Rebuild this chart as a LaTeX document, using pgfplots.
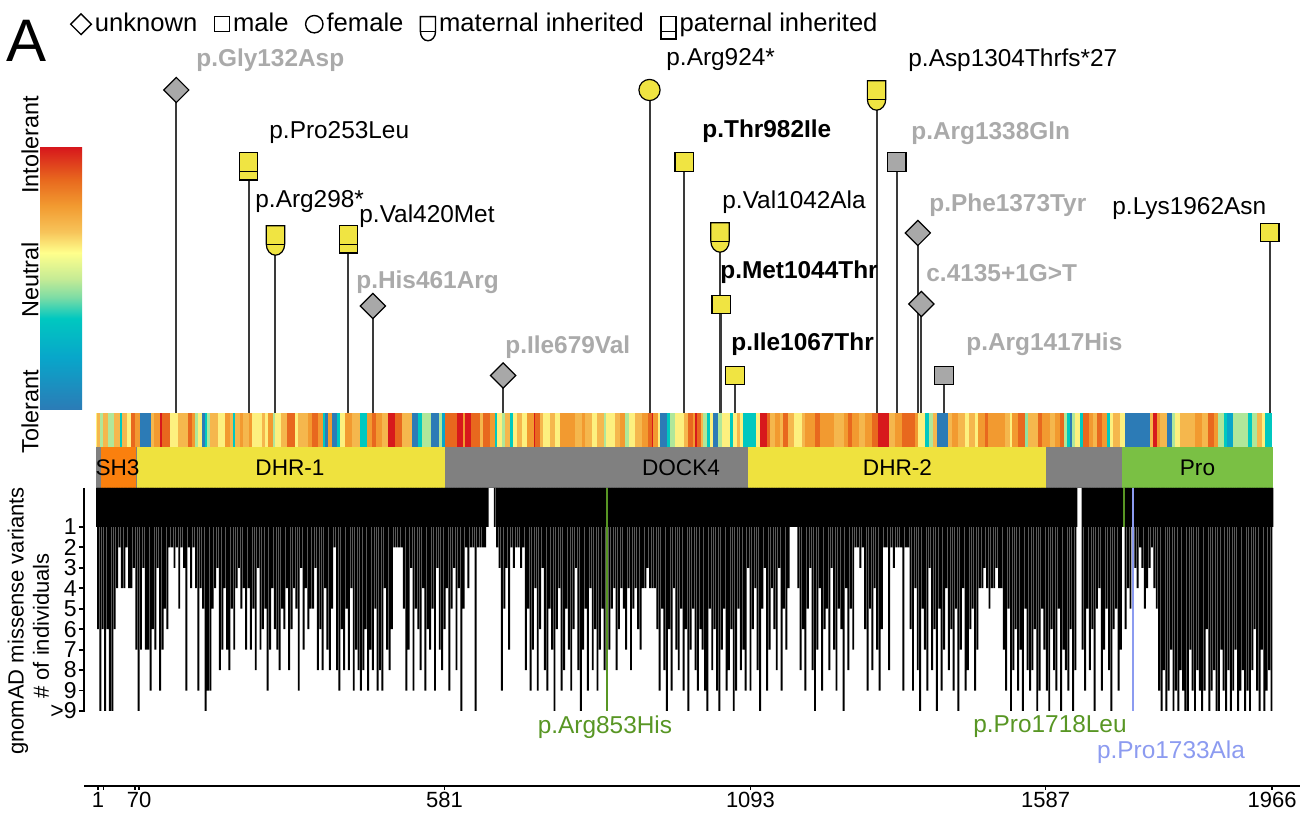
\documentclass[border=0pt]{standalone}
\usepackage{fontspec}
\setmainfont{Liberation Sans}
\usepackage{pgfplots}
\pgfplotsset{compat=1.18}
\usepackage{pgfplotstable}

\definecolor{mkyellow}{RGB}{240,228,66}
\definecolor{mkgrey}{RGB}{168,168,168}
\definecolor{txgrey}{RGB}{170,170,170}
\definecolor{stemc}{RGB}{58,58,58}
\definecolor{domgrey}{RGB}{128,128,128}
\definecolor{domorange}{RGB}{250,128,14}
\definecolor{domyellow}{RGB}{239,226,62}
\definecolor{domgreen}{RGB}{122,192,68}
\definecolor{vgreen}{RGB}{88,150,36}
\definecolor{vblue}{RGB}{140,155,240}
\definecolor{cb0}{RGB}{44,123,182}
\definecolor{cb1}{RGB}{8,166,202}
\definecolor{cb2}{RGB}{0,200,192}
\definecolor{cb3}{RGB}{125,220,165}
\definecolor{cb4}{RGB}{197,235,149}
\definecolor{cb5}{RGB}{255,255,140}
\definecolor{cb6}{RGB}{247,196,90}
\definecolor{cb7}{RGB}{242,154,48}
\definecolor{cb8}{RGB}{232,104,30}
\definecolor{cb9}{RGB}{215,25,28}
\pgfdeclareverticalshading{spec}{100bp}{color(0bp)=(cb0); color(25bp)=(cb0); color(35bp)=(cb1); color(42.5bp)=(cb2); color(46.5bp)=(cb3); color(50bp)=(cb4); color(55bp)=(cb5); color(59bp)=(cb6); color(64bp)=(cb7); color(69bp)=(cb8); color(75bp)=(cb9); color(100bp)=(cb9)}

\pgfdeclareplotmark{dmd}{%
 \pgfpathmoveto{\pgfqpoint{0pt}{6.3pt}}%
 \pgfpathlineto{\pgfqpoint{6.3pt}{0pt}}%
 \pgfpathlineto{\pgfqpoint{0pt}{-6.3pt}}%
 \pgfpathlineto{\pgfqpoint{-6.3pt}{0pt}}%
 \pgfpathclose\pgfusepathqfillstroke}
\pgfdeclareplotmark{sq}{\pgfpathrectangle{\pgfqpoint{-4.6pt}{-4.6pt}}{\pgfqpoint{9.2pt}{9.2pt}}\pgfusepathqfillstroke}
\pgfdeclareplotmark{circ}{\pgfpathcircle{\pgfqpoint{0pt}{0pt}}{5.3pt}\pgfusepathqfillstroke}
\pgfdeclareplotmark{pat}{%
 \pgfpathrectangle{\pgfqpoint{-4.6pt}{-9pt}}{\pgfqpoint{9.2pt}{13.6pt}}\pgfusepathqfillstroke
 \pgfpathmoveto{\pgfqpoint{-4.6pt}{-4.6pt}}\pgfpathlineto{\pgfqpoint{4.6pt}{-4.6pt}}\pgfusepathqstroke}
\pgfdeclareplotmark{mat}{%
 \pgfpathmoveto{\pgfqpoint{-4.6pt}{-4.6pt}}%
 \pgfpathlineto{\pgfqpoint{-4.6pt}{4.6pt}}%
 \pgfpathlineto{\pgfqpoint{4.6pt}{4.6pt}}%
 \pgfpathlineto{\pgfqpoint{4.6pt}{-4.6pt}}%
 \pgfpatharc{0}{-180}{4.6pt and 5.5pt}%
 \pgfpathclose\pgfusepathqfillstroke
 \pgfpathmoveto{\pgfqpoint{-4.6pt}{-4.6pt}}\pgfpathlineto{\pgfqpoint{4.6pt}{-4.6pt}}\pgfusepathqstroke}

% lollipop stems: residue, height above the score strip
\pgfplotstableread{
r h
132 323
253 251
298 178
420 178
461 107
679 37.5
924 323
982 251
1042 181
1044 108.5
1067 37.5
1304 323
1338 251
1373 180
1379 109
1417 37.5
1962 180.5
}\stems

% tolerance score strip: start residue, score (0 tolerant .. 1 intolerant)
\pgfplotstableread{
r c
-2 0.62
0 0.71
4 0.48
10 0.71
18 0.48
27 0.71
38 0.35
41 0.71
49 0.62
57 0.88
63 0.78
71 0
90 0.71
95 0.78
105 1
108 0.88
122 0.62
135 0.71
152 0.88
158 0.78
163 0.48
169 0.62
175 0
180 0.35
183 0.48
188 0.71
202 0.62
214 0.78
222 0.71
227 0.35
230 0.71
239 0.78
244 0.71
253 0.78
258 0.62
275 0.71
281 0.62
286 0.78
294 0.48
297 0.62
308 0.71
317 0.88
331 0.62
336 0.71
353 0.78
359 0.88
370 0.78
378 0.35
381 0
386 0.78
392 0
401 0.35
406 0.62
414 0.78
426 0.71
440 0.35
451 0.78
459 0.88
467 0.78
476 0.71
487 1
498 0.88
509 0.71
526 0
537 0.35
543 0.48
559 0
571 0.48
576 0.2
582 0.88
601 1
612 0.78
615 1
625 0.88
640 0.71
646 0.88
657 0.78
665 0.35
668 0.62
677 0.48
682 0.71
691 0.35
696 0.62
702 0.71
710 0.62
719 0.78
730 1
732 0.88
741 0.71
746 0.62
758 0.71
766 0.62
774 0.78
799 0.71
811 0.78
816 0.71
827 0.62
836 0.71
847 0.48
852 0.62
866 0.71
875 0.78
883 0.48
889 0.62
900 0.71
911 0.78
922 0.88
928 1
930 0.78
939 0.62
942 0
953 0.35
958 0.48
967 0.62
981 0.71
989 0.88
997 0.78
1000 1
1003 0.88
1011 0.71
1014 0.48
1020 0.35
1025 0.62
1031 0
1039 0.48
1045 0.62
1059 0.35
1064 0.62
1070 0.71
1076 0.62
1081 0.35
1103 0.62
1109 1
1120 0.88
1126 0.71
1134 0.78
1143 0.71
1148 0.88
1156 0.71
1165 0.62
1179 0.71
1184 0.78
1201 0.88
1209 0.78
1232 0.71
1249 0.78
1257 0.88
1263 0.78
1274 0.71
1285 0.78
1296 0.88
1307 1
1324 0.71
1335 0.78
1346 0.88
1369 0.78
1374 0.62
1385 0.35
1391 0.48
1399 0.71
1405 0
1424 0.71
1430 0.78
1441 0.71
1452 0.62
1458 0.71
1469 0.62
1474 0.78
1486 0.88
1491 0.78
1519 0.71
1528 0.62
1530 0.78
1541 0.88
1553 0.45
1558 0.71
1575 0.88
1581 0.78
1594 0.71
1603 0.78
1611 0.88
1617 0.48
1622 0.35
1628 0
1631 0.48
1636 0.62
1645 0.35
1650 0.88
1659 0.78
1667 0.71
1673 0.88
1681 0.78
1689 0.35
1695 0.62
1700 0.71
1712 0.62
1720 0
1762 0.71
1767 1
1773 0.78
1779 0.71
1790 0
1798 0.48
1804 0.62
1812 0.71
1837 0.78
1848 0.71
1859 0.88
1868 0.78
1876 0.48
1885 0.35
1890 0.2
1901 0.48
1926 0.35
1932 0.48
1941 0.71
1949 0.62
1954 0.35
1966 0.35
}\heat

% gnomAD: stretches where (nearly) every residue has >= 1 individual
\pgfplotstableread{
r c
-2 1
652 0
668 1
1640 0
1648 1
1968 1
}\gnomadband

% gnomAD missense variants: residue, number of individuals (10 = >9)
\pgfplotstableread{
r c
1 6
5 10
9 6
13 10
17 6
21 10
25 10
29 6
33 4
37 2
41 4
45 4
49 2
53 4
57 4
61 3
65 7
69 10
73 7
77 3
81 7
85 7
89 9
93 6
97 7
101 3
105 9
109 7
113 5
117 6
121 2
125 2
129 3
133 2
137 5
141 2
145 3
149 9
153 2
157 4
161 2
165 4
169 9
173 4
177 5
181 10
185 9
189 9
193 5
197 4
201 3
205 8
209 7
213 4
217 7
221 8
225 5
229 7
233 4
237 3
241 5
245 4
249 7
253 4
257 7
261 5
265 8
269 3
273 7
277 6
281 5
285 9
289 7
293 4
297 6
301 7
305 8
309 5
313 6
317 4
321 8
325 6
329 4
333 5
337 9
341 3
345 7
349 4
353 6
357 5
361 5
365 3
369 8
373 6
377 8
381 4
385 7
389 8
393 5
397 2
401 8
405 9
409 6
413 8
417 5
421 8
425 4
429 9
433 7
437 8
441 9
445 8
449 6
453 9
457 7
461 8
465 5
469 9
473 8
477 9
481 4
485 7
489 8
493 6
497 2
501 2
505 2
509 2
513 5
517 9
521 7
525 3
529 9
533 5
537 6
541 8
545 4
549 9
553 6
557 7
561 5
565 9
569 3
573 7
577 8
581 6
585 4
589 9
593 5
597 3
601 8
605 4
609 10
613 5
617 2
621 4
625 2
629 2
633 10
637 2
641 2
645 2
649 2
653 1
665 1
669 2
673 3
677 9
681 5
685 3
689 7
693 2
697 3
701 2
705 2
709 3
713 2
717 8
721 5
725 9
729 7
733 4
737 9
741 6
745 3
749 8
753 9
757 5
761 7
765 10
769 6
773 4
777 9
781 8
785 5
789 7
793 9
797 6
801 3
805 8
809 10
813 7
817 5
821 9
825 4
829 8
833 6
837 9
841 7
845 5
849 8
857 7
861 5
865 4
869 8
873 6
877 4
881 5
885 7
889 4
893 8
897 5
901 4
905 6
909 7
913 4
917 4
921 3
925 4
929 4
933 4
937 6
941 9
945 5
949 8
953 10
957 6
961 9
965 4
969 7
973 8
977 5
981 9
985 6
989 10
993 7
997 5
1001 8
1005 9
1009 6
1013 7
1017 9
1021 10
1025 5
1029 8
1033 6
1037 9
1041 10
1045 7
1049 5
1053 9
1057 8
1061 6
1065 10
1069 9
1073 5
1077 8
1081 7
1085 9
1089 3
1093 9
1097 6
1101 4
1105 8
1109 10
1113 5
1117 3
1121 9
1125 7
1129 4
1133 6
1137 8
1141 3
1145 9
1149 5
1153 7
1157 4
1161 1
1165 1
1169 1
1173 4
1177 8
1181 6
1185 9
1189 5
1193 3
1197 8
1201 10
1205 7
1209 4
1213 9
1217 6
1221 5
1225 8
1229 3
1233 7
1237 9
1241 5
1245 6
1249 10
1253 4
1257 8
1261 5
1265 7
1269 2
1273 2
1277 3
1281 2
1285 6
1289 9
1293 5
1297 8
1301 4
1305 7
1309 9
1313 6
1317 2
1321 2
1325 8
1329 2
1333 3
1337 2
1341 2
1345 2
1349 9
1353 2
1357 2
1361 6
1365 9
1369 4
1373 8
1377 10
1381 5
1385 7
1389 9
1393 3
1397 8
1401 6
1405 10
1409 5
1413 9
1417 7
1421 4
1425 8
1429 6
1433 9
1437 5
1441 10
1445 7
1449 4
1453 9
1457 8
1461 6
1465 5
1469 9
1473 7
1477 4
1481 4
1485 3
1489 4
1493 5
1497 4
1501 4
1505 3
1509 4
1513 4
1517 7
1521 9
1525 5
1529 10
1533 8
1537 6
1541 9
1545 7
1549 10
1553 5
1557 8
1561 9
1565 8
1569 6
1573 10
1577 9
1581 5
1585 7
1589 9
1593 10
1597 6
1601 8
1605 9
1609 5
1613 10
1617 7
1621 8
1625 9
1629 6
1633 10
1637 8
1649 7
1653 9
1657 5
1661 8
1665 6
1669 10
1673 5
1677 4
1681 9
1685 7
1689 5
1693 8
1697 10
1701 6
1705 5
1709 9
1713 7
1721 6
1725 4
1729 5
1737 3
1741 4
1745 2
1749 3
1753 5
1757 4
1761 3
1765 2
1769 4
1773 5
1777 9
1781 10
1785 8
1789 10
1793 9
1797 7
1801 10
1805 9
1809 10
1813 8
1817 9
1821 10
1825 10
1829 7
1833 9
1837 10
1841 8
1845 9
1849 10
1853 9
1857 6
1861 10
1865 9
1869 8
1873 10
1877 10
1881 7
1885 9
1889 10
1893 8
1897 10
1901 9
1905 7
1909 10
1913 9
1917 8
1921 10
1925 9
1929 10
1933 8
1937 6
1941 9
1945 10
1949 7
1953 10
1957 9
1961 8
1965 10
}\gnomad

\newcommand{\lf}{\fontsize{12.2pt}{14pt}\selectfont}
\newcommand{\lbf}{\fontsize{12.2pt}{14pt}\selectfont\bfseries}
\newcommand{\legimg}[1]{\pgftransformscale{0.82}\pgfsetlinewidth{0.7pt}\pgfsetstrokecolor{black}\pgfsetfillcolor{white}\pgfuseplotmark{#1}}

\begin{document}
\begin{tikzpicture}
\path[use as bounding box] (0pt,0pt) rectangle (657pt,-408.5pt);
\clip (0pt,0pt) rectangle (657pt,-408.5pt);

% ---------- main panel: lollipops, score strip, domains ----------
\begin{axis}[at={(0pt,0pt)}, anchor=north west, scale only axis,
  width=657pt, height=408.5pt,
  xmin=-163.02, xmax=2036.1, ymin=-404, ymax=413,
  hide axis, clip=false,
  colormap={spectral}{[1pt] rgb255(0pt)=(44,123,182); rgb255(20pt)=(8,166,202); rgb255(35pt)=(0,200,192); rgb255(43pt)=(125,220,165); rgb255(50pt)=(197,235,149); rgb255(60pt)=(255,255,140); rgb255(68pt)=(247,196,90); rgb255(78pt)=(242,154,48); rgb255(88pt)=(232,104,30); rgb255(100pt)=(215,25,28)},
  point meta min=0, point meta max=1,
  legend style={at={(axis description cs:0.0535,0.9865)}, anchor=north west,
    draw=none, fill=none, inner sep=0pt, legend columns=5, column sep=0pt,
    font=\fontsize{12.8pt}{14pt}\selectfont,
    nodes={inner sep=1pt},
    /tikz/every even column/.append style={column sep=7.5pt},
    /tikz/every odd column/.append style={column sep=0.8pt}},
  legend cell align=left]
\addlegendimage{legend image code/.code={\legimg{dmd}}}
\addlegendentry{unknown}
\addlegendimage{legend image code/.code={\legimg{sq}}}
\addlegendentry{male}
\addlegendimage{legend image code/.code={\legimg{circ}}}
\addlegendentry{female}
\addlegendimage{legend image code/.code={\legimg{mat}}}
\addlegendentry{maternal inherited}
\addlegendimage{legend image code/.code={\legimg{pat}}}
\addlegendentry{paternal inherited}

% tolerance strip
\addplot[mesh, shader=flat corner, line width=17pt, point meta=explicit, forget plot]
  table[x=r, y expr=-17, meta=c] {\heat};

% domains
\addplot[fill=domgrey, draw=none, forget plot] coordinates {(-2,-34) (1968,-34) (1968,-75) (-2,-75)} -- cycle;
\addplot[fill=domorange, draw=none, forget plot] coordinates {(6,-34) (65,-34) (65,-75) (6,-75)} -- cycle;
\addplot[fill=domyellow, draw=none, forget plot] coordinates {(67,-34) (581,-34) (581,-75) (67,-75)} -- cycle;
\addplot[fill=domyellow, draw=none, forget plot] coordinates {(1089,-34) (1588,-34) (1588,-75) (1089,-75)} -- cycle;
\addplot[fill=domgreen, draw=none, forget plot] coordinates {(1715,-34) (1968,-34) (1968,-75) (1715,-75)} -- cycle;

% stems
\addplot[ycomb, draw=stemc, line width=1pt, forget plot] table[x=r, y=h] {\stems};

% markers
\addplot[only marks, mark=dmd, mark options={fill=mkgrey, draw=black, line width=0.6pt}, forget plot]
  coordinates {(132,323) (461,107) (679,37.5) (1373,180) (1379,109)};
\addplot[only marks, mark=sq, mark options={fill=mkgrey, draw=black, line width=0.6pt}, forget plot]
  coordinates {(1338,251) (1417,37.5)};
\addplot[only marks, mark=sq, mark options={fill=mkyellow, draw=black, line width=0.6pt}, forget plot]
  coordinates {(982,251) (1044,108.5) (1067,37.5) (1962,180.5)};
\addplot[only marks, mark=circ, mark options={fill=mkyellow, draw=black, line width=0.6pt}, forget plot]
  coordinates {(924,323)};
\addplot[only marks, mark=pat, mark options={fill=mkyellow, draw=black, line width=0.6pt}, forget plot]
  coordinates {(253,251) (420,178)};
\addplot[only marks, mark=mat, mark options={fill=mkyellow, draw=black, line width=0.6pt}, forget plot]
  coordinates {(298,178) (1042,181) (1304,323)};
\end{axis}

% ---------- gnomAD panel ----------
\begin{axis}[at={(42pt,-244pt)}, anchor=north west, scale only axis,
  width=596pt, height=112pt,
  xmin=-22.43, xmax=1972.55, ymin=0, ymax=10.95, y dir=reverse,
  enlargelimits=false, clip=false,
  axis x line=none, axis y line*=left,
  axis line style={-, line width=0.9pt, black},
  ytick={1.9,2.9,3.9,4.9,5.9,6.9,7.9,8.9,9.9,10.9},
  yticklabels={1,2,3,4,5,6,7,8,9,{>}9},
  tick align=outside, major tick length=2.5pt,
  tick style={black, line width=0.9pt},
  yticklabel style={font=\fontsize{11.5pt}{12pt}\selectfont, inner sep=1pt}]
\addplot[ybar interval, fill=black, draw=none]
  table[x=r, y expr=\thisrow{c}+0.9*(\thisrow{c}>0)] {\gnomadband};
\addplot[ybar, bar width=3.25, bar shift=0pt, fill=black, draw=none]
  table[x=r, y expr=\thisrow{c}+0.9] {\gnomad};
\addplot[ycomb, draw=vgreen, line width=1pt] coordinates {(853,10.9) (1718,1.9)};
\addplot[ycomb, draw=vblue, line width=1pt] coordinates {(1733,10.9)};
\end{axis}

% ---------- residue axis ----------
\begin{axis}[at={(42pt,-393pt)}, anchor=south west, scale only axis,
  width=608pt, height=1pt,
  xmin=-22.43, xmax=2012.7, ymin=0, ymax=1, enlargelimits=false,
  axis y line=none, axis x line*=bottom,
  axis line style={-, line width=1.2pt, black},
  xtick={1,10,63,70,581,1093,1587,1966},
  xticklabels={1,,,70,581,1093,1587,1966},
  tick align=outside, major tick length=2pt,
  tick style={black, line width=0.8pt},
  xticklabel style={font=\fontsize{11pt}{12pt}\selectfont, inner sep=1pt}]
\end{axis}

% ---------- texts ----------
\begin{scope}[x=0.5pt, y=-0.5pt]
\path[shading=spec] (40,148) rectangle (82,410);
\node[anchor=base west, inner sep=0pt, font=\fontsize{30pt}{32pt}\selectfont] at (6,62) {A};
\begin{scope}[every node/.style={rotate=90, inner sep=0pt, font=\fontsize{11.7pt}{13pt}\selectfont}]
\node at (30,412) {Tolerant};
\node at (30,280) {Neutral};
\node at (30,145) {Intolerant};
\end{scope}
\begin{scope}[every node/.style={rotate=90, inner sep=0pt, font=\fontsize{11pt}{13pt}\selectfont}]
\node at (18,621) {gnomAD missense variants};
\node at (41,626) {\# of individuals};
\end{scope}
\begin{scope}[every node/.style={anchor=west, inner sep=0pt}]
\node[font=\lbf, text=txgrey] at (196,60) {p.Gly132Asp};
\node[font=\lf] at (666,60) {p.Arg924*};
\node[font=\lf] at (908,60) {p.Asp1304Thrfs*27};
\node[font=\lf] at (269,133) {p.Pro253Leu};
\node[font=\lbf] at (702,131) {p.Thr982Ile};
\node[font=\lbf, text=txgrey] at (911,133) {p.Arg1338Gln};
\node[font=\lf] at (255,202) {p.Arg298*};
\node[font=\lf] at (359,216) {p.Val420Met};
\node[font=\lf] at (722,202) {p.Val1042Ala};
\node[font=\lbf, text=txgrey] at (929,205) {p.Phe1373Tyr};
\node[font=\lf] at (1112,209) {p.Lys1962Asn};
\node[font=\lbf, text=txgrey] at (356,282) {p.His461Arg};
\node[font=\lbf] at (720,272) {p.Met1044Thr};
\node[font=\lbf, text=txgrey] at (926,273) {c.4135+1G>T};
\node[font=\lbf, text=txgrey] at (505,347) {p.Ile679Val};
\node[font=\lbf] at (731,344) {p.Ile1067Thr};
\node[font=\lbf, text=txgrey] at (966,344) {p.Arg1417His};
\end{scope}
\begin{scope}[every node/.style={inner sep=0pt, font=\fontsize{11.3pt}{13pt}\selectfont}]
\node at (117.5,468) {SH3};
\node at (290,468) {DHR-1};
\node at (681,468) {DOCK4};
\node at (897.5,468) {DHR-2};
\node at (1197.5,468) {Pro};
\end{scope}
\node[inner sep=0pt, font=\lf, text=vgreen] at (605,727) {p.Arg853His};
\node[inner sep=0pt, font=\lf, text=vgreen] at (1050,727) {p.Pro1718Leu};
\node[inner sep=0pt, font=\lf, text=vblue] at (1171,752) {p.Pro1733Ala};
\node[inner sep=0pt, font=\fontsize{11pt}{12pt}\selectfont] at (104,826) {10};
\node[inner sep=0pt, font=\fontsize{11pt}{12pt}\selectfont] at (136,826) {63};
\end{scope}
\end{tikzpicture}
\end{document}
